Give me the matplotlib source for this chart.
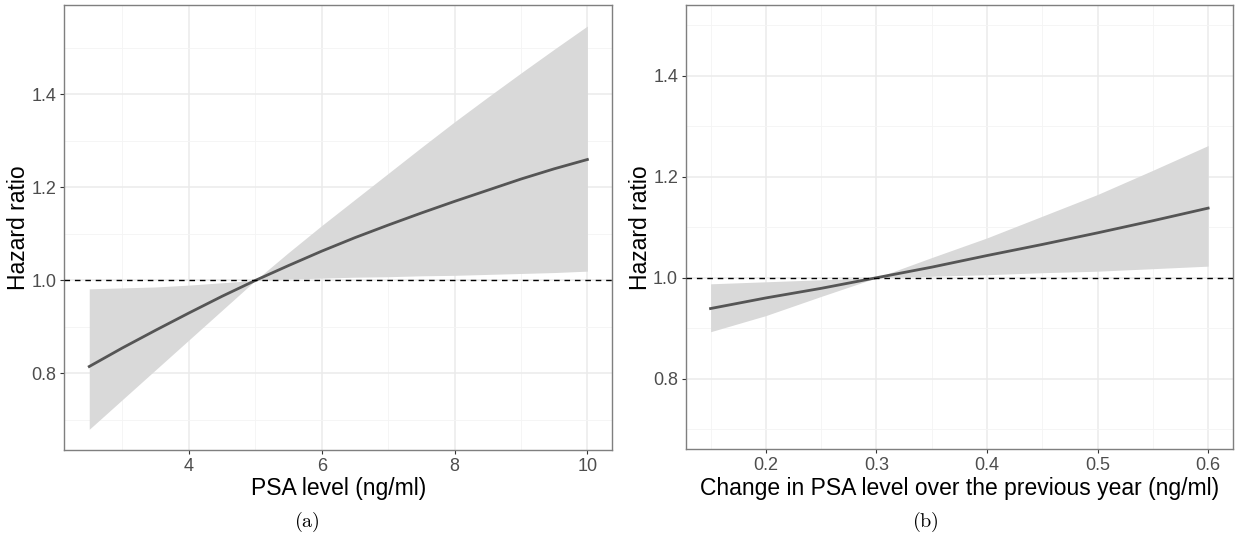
import matplotlib
matplotlib.use("Agg")
import matplotlib.pyplot as plt
from matplotlib.ticker import MultipleLocator

plt.rcParams['font.family'] = ['Liberation Sans', 'DejaVu Sans']
plt.rcParams['mathtext.fontset'] = 'cm'

# panel (a): PSA level
psa_x = [2.5, 3, 3.5, 4, 4.5, 5, 5.5, 6, 6.5, 7, 7.5, 8, 8.5, 9, 9.5, 10]
psa_hr = [0.815, 0.855, 0.893, 0.930, 0.966, 1.0, 1.032, 1.063, 1.092, 1.119,
          1.145, 1.17, 1.194, 1.218, 1.24, 1.26]
psa_lo = [0.68, 0.744, 0.808, 0.872, 0.936, 1.0, 1.003, 1.005, 1.007, 1.008,
          1.010, 1.011, 1.013, 1.015, 1.017, 1.02]
psa_hi = [0.982, 0.984, 0.986, 0.990, 0.995, 1.0, 1.06, 1.118, 1.174, 1.23,
          1.286, 1.341, 1.394, 1.446, 1.497, 1.547]

# panel (b): change in PSA over previous year
vel_x = [0.15, 0.2, 0.25, 0.3, 0.35, 0.4, 0.45, 0.5, 0.55, 0.6]
vel_hr = [0.939, 0.96, 0.979, 1.0, 1.021, 1.044, 1.066, 1.089, 1.113, 1.138]
vel_lo = [0.893, 0.925, 0.963, 1.0, 1.003, 1.006, 1.01, 1.013, 1.018, 1.023]
vel_hi = [0.988, 0.992, 0.996, 1.0, 1.04, 1.079, 1.122, 1.165, 1.213, 1.262]

fig = plt.figure(figsize=(12.35, 5.41), dpi=100)
ax1 = fig.add_axes([0.0521, 0.1682, 0.4437, 0.822])
ax2 = fig.add_axes([0.5552, 0.1695, 0.4432, 0.8207])


def style(ax, xlabel):
    for s in ax.spines.values():
        s.set_color('#7f7f7f')
        s.set_linewidth(1.0)
    ax.grid(True, which='major', color='#ebebeb', lw=1.1, zorder=0)
    ax.grid(True, which='minor', color='#f4f4f4', lw=0.6, zorder=0)
    ax.tick_params(which='major', length=3, width=0.8, color='#333333',
                   labelcolor='#4d4d4d', labelsize=13, pad=2.5)
    ax.tick_params(which='minor', length=0)
    ax.set_axisbelow(True)
    ax.axhline(1.0, color='black', lw=1.0, ls=(0, (4, 3.5)), zorder=4)
    ax.set_ylabel('Hazard ratio', fontsize=16.5, color='black')
    ax.set_xlabel(xlabel, fontsize=16.5, color='black', labelpad=2)
    ax.yaxis.set_label_coords(-0.062, 0.5)


ax1.fill_between(psa_x, psa_lo, psa_hi, color='#d9d9d9', lw=0, zorder=2)
ax1.plot(psa_x, psa_hr, color='#555555', lw=2.0, zorder=3)
ax1.set_xlim(2.125, 10.375)
ax1.set_ylim(0.6355, 1.5915)
ax1.xaxis.set_minor_locator(MultipleLocator(1))
ax1.yaxis.set_minor_locator(MultipleLocator(0.1))
ax1.set_xticks([4, 6, 8, 10])
ax1.set_xticklabels(['4', '6', '8', '10'])
ax1.set_yticks([0.8, 1.0, 1.2, 1.4])
ax1.set_yticklabels(['0.8', '1.0', '1.2', '1.4'])
style(ax1, 'PSA level (ng/ml)')

ax2.fill_between(vel_x, vel_lo, vel_hi, color='#d9d9d9', lw=0, zorder=2)
ax2.plot(vel_x, vel_hr, color='#555555', lw=2.0, zorder=3)
ax2.set_xlim(0.1275, 0.6225)
ax2.set_ylim(0.66, 1.54)
ax2.xaxis.set_minor_locator(MultipleLocator(0.05))
ax2.yaxis.set_minor_locator(MultipleLocator(0.1))
ax2.set_xticks([0.2, 0.3, 0.4, 0.5, 0.6])
ax2.set_xticklabels(['0.2', '0.3', '0.4', '0.5', '0.6'])
ax2.set_yticks([0.8, 1.0, 1.2, 1.4])
ax2.set_yticklabels(['0.8', '1.0', '1.2', '1.4'])
style(ax2, 'Change in PSA level over the previous year (ng/ml)')

fig.text(307 / 1235, 1 - 522 / 541, r'$\mathrm{(a)}$', fontsize=14.5,
         ha='center', va='center')
fig.text(925 / 1235, 1 - 522 / 541, r'$\mathrm{(b)}$', fontsize=14.5,
         ha='center', va='center')

fig.savefig('out.png', dpi=100)
